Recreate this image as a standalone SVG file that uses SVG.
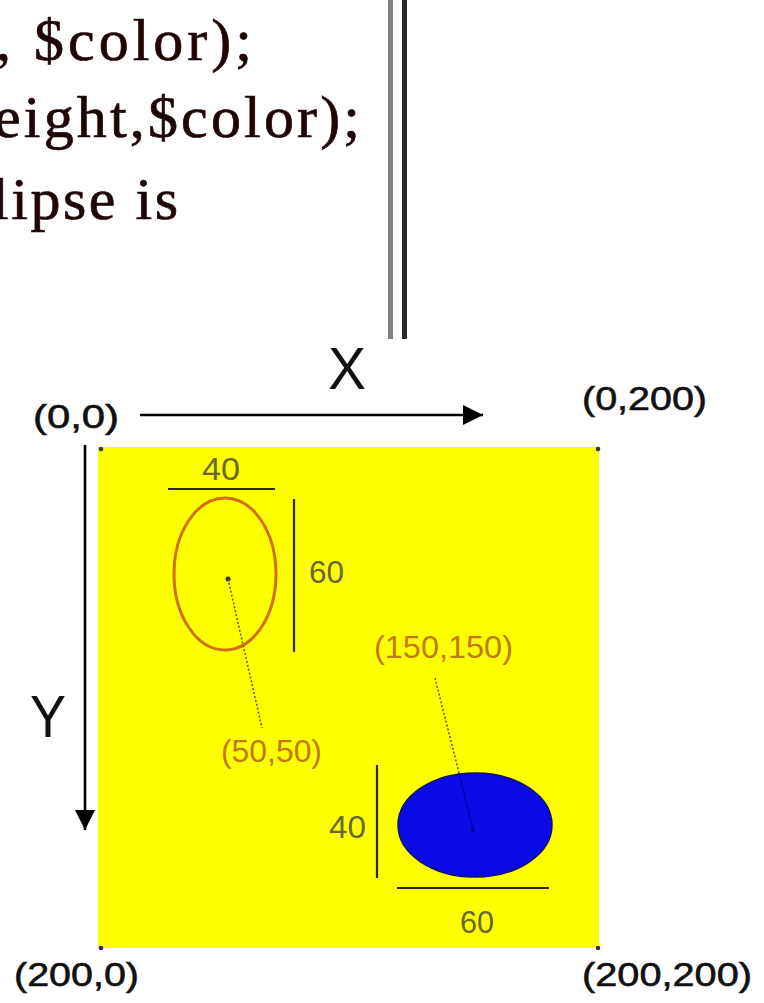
<svg xmlns="http://www.w3.org/2000/svg" width="764" height="1003" viewBox="0 0 764 1003">
<style>
.code{font-family:"Liberation Serif","Times New Roman",serif;font-size:60px;fill:#1e0606;stroke:#1e0606;stroke-width:0.7}
.coord{font-family:"Liberation Sans",Arial,sans-serif;font-size:33px;fill:#111;stroke:#111;stroke-width:0.6}
.axis{font-family:"Liberation Sans",Arial,sans-serif;font-size:60px;fill:#111}
.dim{font-family:"Liberation Sans",Arial,sans-serif;font-size:31px;fill:#6a6630}
.pt{font-family:"Liberation Sans",Arial,sans-serif;font-size:31px;fill:#c07a10}
.dimline{stroke:#2a2a1a;stroke-width:2.2;fill:none}
.lead{stroke:#5a5a20;stroke-width:1.6;stroke-dasharray:2 2;fill:none}
.corner{fill:#333}
</style>
<defs>
<marker id="ah" viewBox="0 0 10 10" refX="10" refY="5" markerWidth="20" markerHeight="20" markerUnits="userSpaceOnUse" orient="auto">
<path d="M0,0 L10,5 L0,10 Z" fill="#000"/>
</marker>
</defs>
<rect width="764" height="1003" fill="#fff"/>
<g id="code-text">
<text class="code" x="-4" y="60" textLength="256" lengthAdjust="spacing">, $color);</text>
<text class="code" x="-6" y="137" textLength="366" lengthAdjust="spacing">eight,$color);</text>
<text class="code" x="-8" y="219" textLength="186" lengthAdjust="spacing">lipse is</text>
</g>
<g id="divider">
<rect x="388" y="0" width="5" height="339" fill="#808080"/>
<rect x="402" y="0" width="5" height="339" fill="#2a2a2a"/>
</g>
<g id="canvas">
<rect x="98" y="447" width="501" height="501" fill="#ffff00"/>
<circle class="corner" cx="101" cy="449" r="2.3"/>
<circle class="corner" cx="598" cy="449" r="2.3"/>
<circle class="corner" cx="101" cy="948" r="2.3"/>
<circle class="corner" cx="598" cy="948" r="2.3"/>
</g>
<g id="labels">
<text class="coord" x="33" y="428" textLength="86" lengthAdjust="spacingAndGlyphs">(0,0)</text>
<text class="coord" x="582" y="410" textLength="125" lengthAdjust="spacingAndGlyphs">(0,200)</text>
<text class="coord" x="14" y="986" textLength="125" lengthAdjust="spacingAndGlyphs">(200,0)</text>
<text class="coord" x="582" y="986" textLength="170" lengthAdjust="spacingAndGlyphs">(200,200)</text>
<text class="axis" x="328" y="389" textLength="38" lengthAdjust="spacingAndGlyphs">X</text>
<text class="axis" x="30" y="737" textLength="36" lengthAdjust="spacingAndGlyphs">Y</text>
</g>
<g id="ellipse-outline">
<ellipse cx="225" cy="574" rx="51" ry="76" fill="none" stroke="#d07010" stroke-width="3"/>
<circle cx="228" cy="579" r="2.5" fill="#333"/>
</g>
<g id="ellipse-filled">
<ellipse cx="475" cy="825" rx="77" ry="52" fill="#0a0ae6" stroke="#10106a" stroke-width="1.5"/>
<circle cx="473" cy="830" r="2" fill="#0000a0"/>
</g>
<g id="connectors">
<line x1="140" y1="415" x2="483" y2="415" stroke="#000" stroke-width="2.6" marker-end="url(#ah)"/>
<line x1="85" y1="445" x2="85" y2="830" stroke="#000" stroke-width="2.6" marker-end="url(#ah)"/>
<line class="dimline" x1="168" y1="489" x2="275" y2="489"/>
<line class="dimline" x1="294" y1="499" x2="294" y2="652"/>
<line class="dimline" x1="377" y1="765" x2="377" y2="878"/>
<line class="dimline" x1="397" y1="888" x2="549" y2="888"/>
<line class="lead" x1="228" y1="579" x2="262" y2="728"/>
<line class="lead" x1="435" y1="678" x2="459" y2="773"/>
<line x1="459" y1="773" x2="473" y2="830" stroke="#0000a8" stroke-width="1.2"/>
</g>
<g id="dim-labels">
<text class="dim" x="202" y="480" textLength="38" lengthAdjust="spacingAndGlyphs">40</text>
<text class="dim" x="309" y="583" textLength="35" lengthAdjust="spacingAndGlyphs">60</text>
<text class="dim" x="329" y="838" textLength="37" lengthAdjust="spacingAndGlyphs">40</text>
<text class="dim" x="460" y="933" textLength="34" lengthAdjust="spacingAndGlyphs">60</text>
<text class="pt" x="221" y="762" textLength="101" lengthAdjust="spacingAndGlyphs">(50,50)</text>
<text class="pt" x="374" y="658" textLength="139" lengthAdjust="spacingAndGlyphs">(150,150)</text>
</g>
</svg>
